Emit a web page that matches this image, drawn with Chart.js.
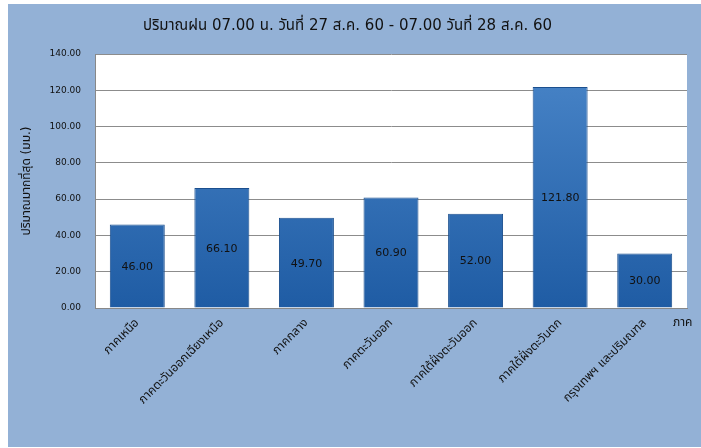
<!DOCTYPE html>
<html>
<head>
<meta charset="utf-8">
<script src="https://cdn.jsdelivr.net/npm/chart.js@4/dist/chart.umd.min.js"></script>
<style>
    body { margin: 0; background: #fff; }
    #wrap { position: absolute; left: 8px; top: 4px; width: 693px; height: 443px; }
</style>
</head>
<body>
<div id="wrap"><canvas id="rainChart"></canvas></div>
<script>
const regions = ['ภาคเหนือ', 'ภาคตะวันออกเฉียงเหนือ', 'ภาคกลาง', 'ภาคตะวันออก', 'ภาคใต้ฝั่งตะวันออก', 'ภาคใต้ฝั่งตะวันตก', 'กรุงเทพฯ และปริมณฑล'];
const rainMax = [46.00, 66.10, 49.70, 60.90, 52.00, 121.80, 30.00];
const yTicks = [0, 20, 40, 60, 80, 100, 120, 140];

const FONT = '"DejaVu Sans", "Noto Sans Thai", sans-serif';

// blue panel, white plot area, value labels, x title
const panelBg = {
    id: 'panelBg',
    beforeDraw(chart) {
        const { ctx, chartArea: a } = chart;
        ctx.save();
        ctx.fillStyle = '#93b1d6';
        ctx.fillRect(0, 0, chart.width, chart.height);
        ctx.fillStyle = '#ffffff';
        ctx.fillRect(a.left, a.top, a.right - a.left, a.bottom - a.top);
        ctx.restore();
    },
    afterDatasetsDraw(chart) {
        const { ctx } = chart;
        const meta = chart.getDatasetMeta(0);
        ctx.save();
        ctx.font = '11px ' + FONT;
        ctx.fillStyle = '#111';
        ctx.textAlign = 'center';
        ctx.textBaseline = 'middle';
        meta.data.forEach((bar, i) => {
            const mid = (bar.y + bar.base) / 2;
            ctx.fillText(rainMax[i].toFixed(2), bar.x, mid + 1);
        });
        ctx.font = '12px ' + FONT;
        ctx.textAlign = 'left';
        ctx.fillText('ภาค', chart.chartArea.right - 14, chart.chartArea.bottom + 15);
        ctx.restore();
    }
};

function barFill(context) {
    const chart = context.chart;
    const a = chart.chartArea;
    if (!a) return '#2e6db5';
    const g = chart.ctx.createLinearGradient(0, a.top, 0, a.bottom);
    g.addColorStop(0, '#4a86c9');
    g.addColorStop(1, '#1f5ca4');
    return g;
}

new Chart(document.getElementById('rainChart'), {
    type: 'bar',
    data: {
        labels: regions,
        datasets: [{
            data: rainMax,
            backgroundColor: barFill,
            borderColor: '#1b4f8e',
            borderWidth: 1,
            barPercentage: 0.65,
            categoryPercentage: 1
        }]
    },
    options: {
        responsive: true,
        maintainAspectRatio: false,
        animation: false,
        layout: { padding: { left: 0, right: 14, top: 0, bottom: 0 } },
        plugins: {
            legend: { display: false },
            tooltip: { enabled: false },
            title: {
                display: true,
                text: 'ปริมาณฝน 07.00 น. วันที่ 27 ส.ค. 60 - 07.00 วันที่ 28 ส.ค. 60',
                color: '#111',
                font: { family: FONT, size: 15, weight: 'normal' },
                padding: { top: 13, bottom: 19 }
            }
        },
        scales: {
            x: {
                grid: { display: false, drawTicks: false },
                border: { color: '#888' },
                ticks: {
                    color: '#111',
                    font: { family: FONT, size: 12 },
                    maxRotation: 45,
                    minRotation: 45,
                    padding: 8
                },
                afterFit(s) { s.height = 139; }
            },
            y: {
                min: 0,
                max: 140,
                afterBuildTicks(s) { s.ticks = yTicks.map(v => ({ value: v })); },
                grid: { color: '#8c8c8c', drawTicks: false },
                border: { color: '#888' },
                ticks: {
                    color: '#111',
                    font: { family: FONT, size: 9 },
                    padding: 14,
                    callback: v => Number(v).toFixed(2)
                },
                title: {
                    display: true,
                    text: 'ปริมาณมากที่สุด (มม.)',
                    color: '#111',
                    font: { family: FONT, size: 12 },
                    padding: { top: 12, bottom: 0 }
                },
                afterFit(s) { s.width = 87; }
            }
        }
    },
    plugins: [panelBg]
});
</script>
</body>
</html>
